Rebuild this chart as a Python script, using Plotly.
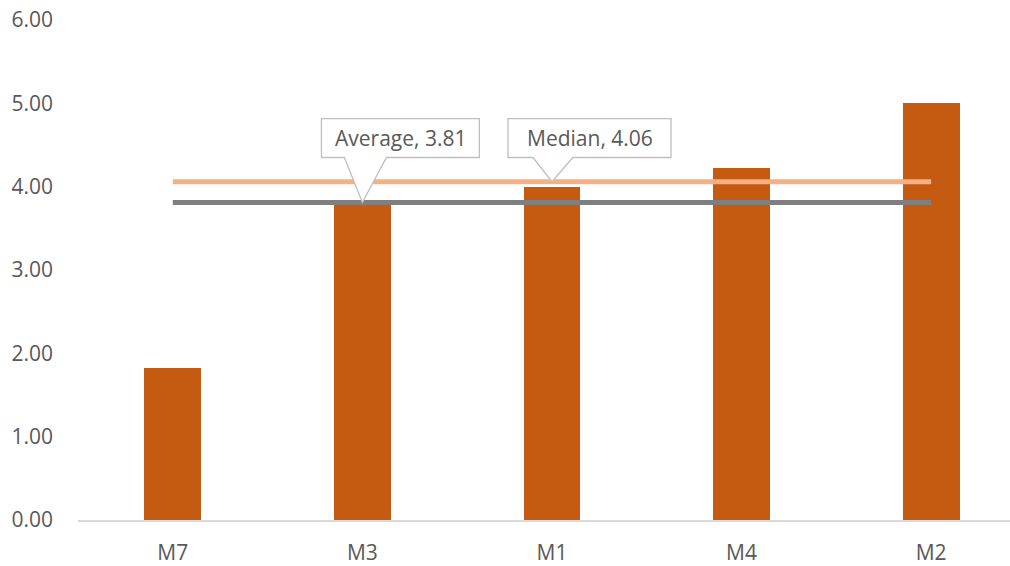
import plotly.graph_objects as go

categories = ["M7", "M3", "M1", "M4", "M2"]
values = [1.83, 3.84, 4.00, 4.23, 5.00]
average_value = 3.81
median_value = 4.06
average_label = "Average, 3.81"
median_label = "Median, 4.06"
y_ticks = [0, 1, 2, 3, 4, 5, 6]
y_tick_labels = ["0.00", "1.00", "2.00", "3.00", "4.00", "5.00", "6.00"]

BAR = "#C55A11"
AVG = "#7F7F7F"
MED = "#F4B183"
TXT = "#595959"
FONT = "Open Sans, Liberation Sans, sans-serif"

xs = list(range(len(categories)))

fig = go.Figure()
fig.add_trace(go.Bar(x=xs, y=values, width=0.30, marker=dict(color=BAR, line=dict(width=0)),
                     showlegend=False, hoverinfo="x+y"))
fig.add_trace(go.Scatter(x=[xs[0], xs[-1]], y=[median_value] * 2, mode="lines",
                         line=dict(color=MED, width=5), showlegend=False))
fig.add_trace(go.Scatter(x=[xs[0], xs[-1]], y=[average_value] * 2, mode="lines",
                         line=dict(color=AVG, width=5), showlegend=False))


def callout(tip_x, tip_y, left, right, wl, wr, text):
    bottom, top = 4.35, 4.817
    path = (f"M {tip_x+left},{bottom} L {tip_x+left},{top} L {tip_x+right},{top} "
            f"L {tip_x+right},{bottom} L {tip_x+wr},{bottom} L {tip_x},{tip_y} "
            f"L {tip_x+wl},{bottom} Z")
    fig.add_shape(type="path", path=path, xref="x", yref="y",
                  line=dict(color="#BFBFBF", width=1.3), fillcolor="white", layer="above")
    fig.add_annotation(x=tip_x + (left + right) / 2, y=(bottom + top) / 2, xref="x", yref="y",
                       text=text, showarrow=False,
                       font=dict(family=FONT, size=21, color=TXT))


callout(1, average_value, -0.216, 0.617, -0.095, 0.127, average_label)
callout(2, median_value, -0.232, 0.628, -0.10, 0.11, median_label)

fig.update_layout(
    width=1010, height=566,
    margin=dict(l=78, r=0, t=20, b=42),
    paper_bgcolor="white", plot_bgcolor="white",
    font=dict(family=FONT, color=TXT, size=21),
    bargap=0,
)
fig.update_xaxes(range=[-0.5, 4.416], tickvals=xs, ticktext=categories,
                 showgrid=False, zeroline=False, showline=True, linecolor="#D9D9D9",
                 linewidth=1.5, ticks="", tickfont=dict(size=21, color=TXT), ticklabelstandoff=13)
fig.update_yaxes(range=[0, 6], tickvals=y_ticks, ticktext=y_tick_labels,
                 showgrid=False, zeroline=False, showline=False, ticks="",
                 tickfont=dict(size=21, color=TXT), ticklabelstandoff=24)

fig.write_html("out.html", config={"displayModeBar": False},
               post_script="document.body.style.margin='0';")
